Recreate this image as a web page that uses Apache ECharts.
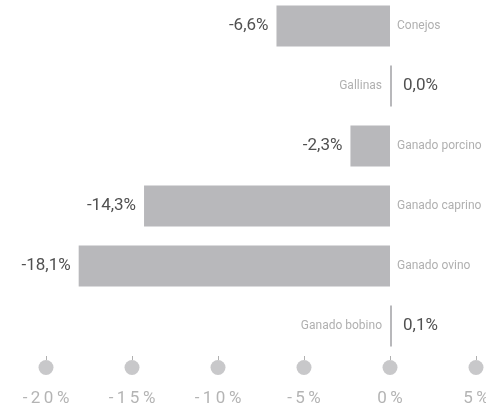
<!DOCTYPE html>
<html>
<head>
<meta charset="utf-8">
<script src="https://cdn.jsdelivr.net/npm/echarts@6/dist/echarts.min.js"></script>
<style>
  html, body { margin: 0; padding: 0; background: #fff; }
  #chart { width: 486px; height: 404px; }
</style>
</head>
<body>
<div id="chart"></div>
<script>
// datos: variación por especie (de arriba a abajo)
const categories = ['Conejos', 'Gallinas', 'Ganado porcino', 'Ganado caprino', 'Ganado ovino', 'Ganado bobino'];
const values = [-6.6, 0.0, -2.3, -14.3, -18.1, 0.1];
const xTicks = [-20, -15, -10, -5, 0, 5];

const fmt = v => v.toFixed(1).replace('.', ',') + '%';
const spaced = s => s.split('').join('\u2009');

const chart = echarts.init(document.getElementById('chart'));

const option = {
  animation: false,
  grid: { left: 46, right: 10, top: -4, bottom: 48, containLabel: false, outerBoundsMode: 'none' },
  xAxis: {
    type: 'value',
    min: xTicks[0],
    max: xTicks[xTicks.length - 1],
    interval: 5,
    axisLine: { show: true, onZero: false, lineStyle: { color: 'rgba(0,0,0,0)' } },
    splitLine: { show: false },
    axisTick: { show: true, length: 4, lineStyle: { color: '#b0b0b0', width: 1 } },
    axisLabel: {
      margin: 4,
      formatter: v => '{d|}\n{t|' + spaced(v + '%') + '}',
      rich: {
        d: { width: 15, height: 15, borderRadius: 7.5, backgroundColor: '#c8c8ca', lineHeight: 15 },
        t: { fontFamily: 'Roboto', fontSize: 17, color: '#b4b4b4', lineHeight: 48 }
      }
    }
  },
  yAxis: {
    type: 'category',
    data: categories,
    inverse: true,
    axisLine: { show: false },
    axisTick: { show: false },
    axisLabel: { show: false },
    splitLine: { show: false }
  },
  series: [
    {
      type: 'bar',
      barWidth: 41,
      barMinHeight: 2,
      itemStyle: { color: '#b8b8bb' },
      emphasis: { disabled: true },
      data: values.map(v => ({
        value: v,
        label: {
          show: true,
          position: v < 0 ? 'left' : 'right',
          distance: v < 0 ? 8 : 11,
          formatter: () => fmt(v),
          fontFamily: 'Roboto',
          fontSize: 17,
          color: '#505050'
        }
      }))
    },
    {
      type: 'bar',
      barWidth: 41,
      barGap: '-100%',
      itemStyle: { color: 'rgba(0,0,0,0)' },
      emphasis: { disabled: true },
      data: values.map((v, i) => ({
        value: 0,
        label: {
          show: true,
          position: v < 0 ? 'right' : 'left',
          distance: v < 0 ? 7 : 8,
          formatter: () => categories[i],
          fontFamily: 'Roboto',
          fontSize: 12,
          color: '#b0b0b0'
        }
      }))
    }
  ]
};

chart.setOption(option);
</script>
</body>
</html>
